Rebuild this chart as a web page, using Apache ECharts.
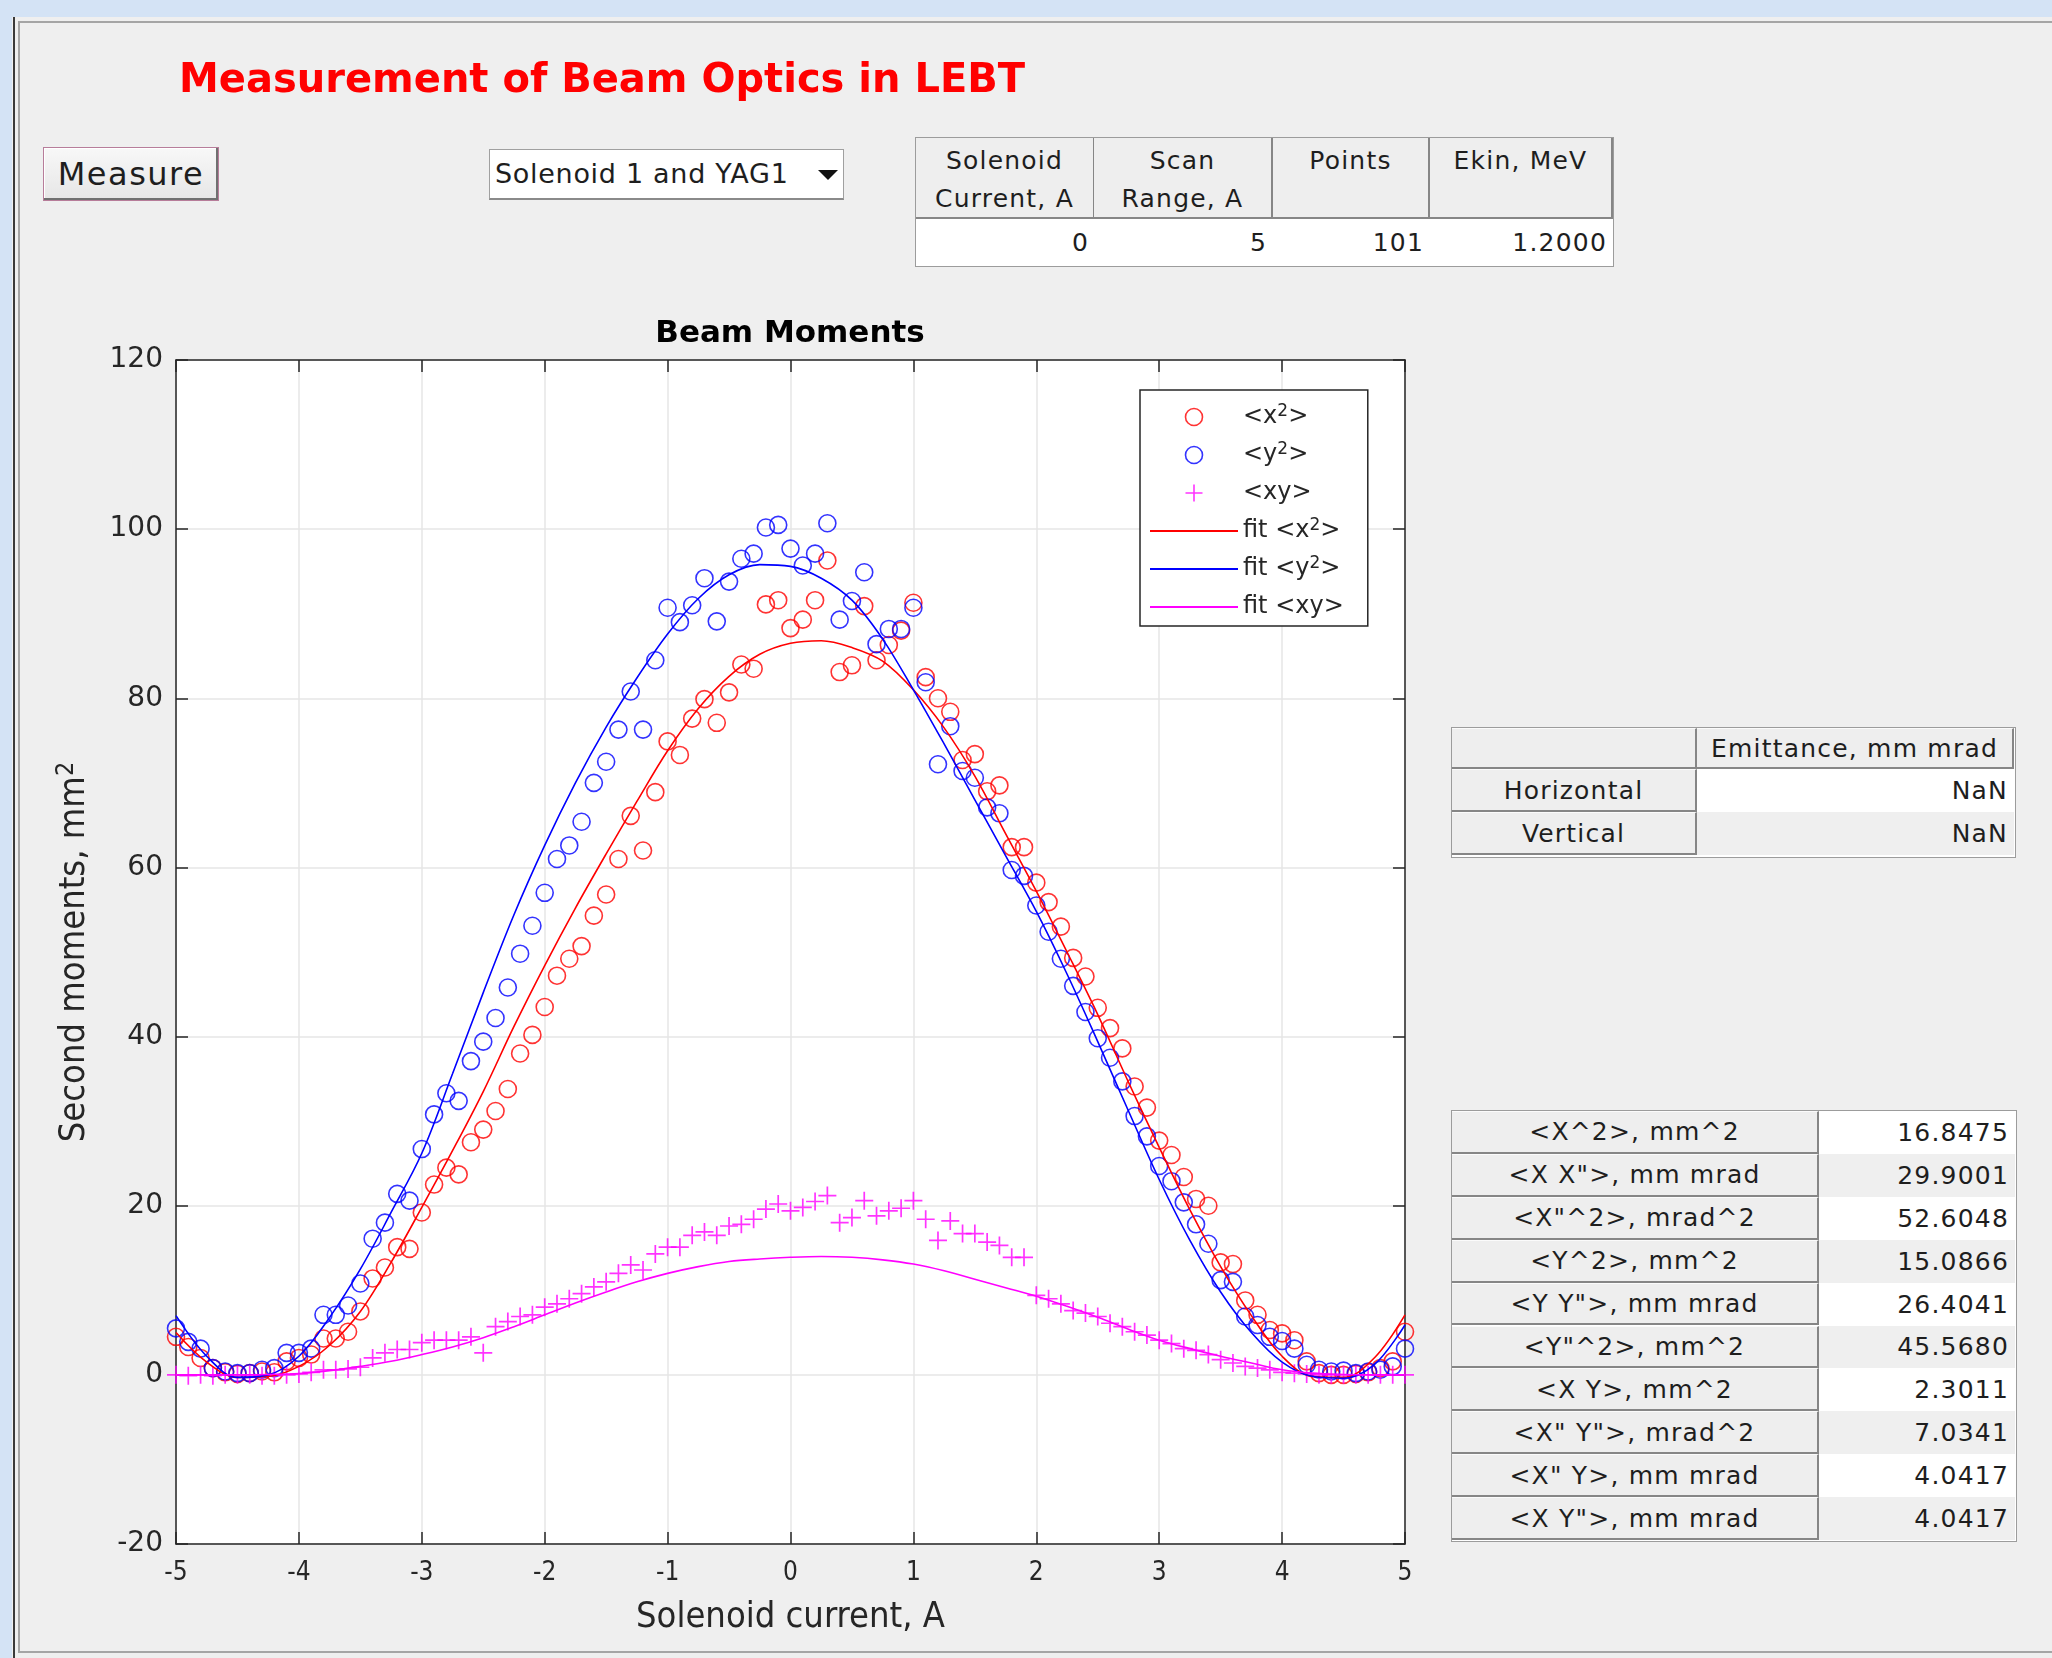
<!DOCTYPE html>
<html>
<head>
<meta charset="utf-8">
<title>Measurement of Beam Optics in LEBT</title>
<script src="https://cdn.jsdelivr.net/npm/echarts@6.0.0/dist/echarts.min.js"></script>
<style>
  html, body { margin: 0; padding: 0; }
  body {
    width: 2052px; height: 1658px; position: relative; overflow: hidden;
    background: #efefef; font-family: "DejaVu Sans", sans-serif; color: #1e1e1e;
  }
  .band { position: absolute; background: #d4e3f5; }
  .rule { position: absolute; }
  #heading {
    position: absolute; left: 179px; top: 58px; margin: 0;
    font-size: 40px; line-height: 40px; font-weight: bold; color: #ff0000; white-space: nowrap;
  }
  #measure {
    position: absolute; left: 43px; top: 147px; width: 176px; height: 54px; box-sizing: border-box;
    border: 1px solid #b77d9a; background: linear-gradient(#f8f8f8, #e6e6e6);
    box-shadow: inset -2px -2px 0 #707070, inset 1px 1px 0 #ffffff;
    font-size: 32px; letter-spacing: 1.5px; display: flex; align-items: center; justify-content: center;
  }
  #source {
    position: absolute; left: 489px; top: 149px; width: 355px; height: 51px; box-sizing: border-box;
    background: #fff; border: 1px solid #a0a0a0; border-bottom: 2px solid #8a8a8a;
    font-size: 27px; letter-spacing: 0.7px; line-height: 48px; padding-left: 5px; white-space: nowrap;
  }
  #source .arrow {
    position: absolute; left: 328px; top: 20px; width: 0; height: 0;
    border-left: 10px solid transparent; border-right: 10px solid transparent; border-top: 10px solid #111;
  }
  .tbl { position: absolute; box-sizing: border-box; border: 1px solid #9c9c9c; background: #fff; }
  .cell {
    position: absolute; box-sizing: border-box; display: flex; align-items: center;
    font-size: 25px; letter-spacing: 1.2px; white-space: pre-line; overflow: hidden;
  }
  .hd {
    background: #eeeeee; justify-content: center; text-align: center;
    border-right: 2px solid #868686; border-bottom: 2px solid #868686; border-top: 1px solid #fbfbfb;
  }
  .cap { align-items: flex-start; line-height: 38px; padding-top: 4px; border-top: none; }
  .num { justify-content: flex-end; padding-right: 6px; }
  #chart { position: absolute; left: 0; top: 0; width: 2052px; height: 1658px; }
</style>
</head>
<body>
<div class="band" style="left:0;top:0;width:2052px;height:17px"></div>
<div class="band" style="left:0;top:0;width:12px;height:1658px"></div>
<div class="rule" style="left:13px;top:17px;width:2px;height:1641px;background:#3a3a3a"></div>
<div class="rule" style="left:18px;top:21px;width:2034px;height:2px;background:#a5a5a5"></div>
<div class="rule" style="left:18px;top:21px;width:2px;height:1632px;background:#a5a5a5"></div>
<div class="rule" style="left:18px;top:1651px;width:2034px;height:2px;background:#a5a5a5"></div>

<div id="chart"></div>

<h1 id="heading">Measurement of Beam Optics in LEBT</h1>
<div id="measure">Measure</div>
<div id="source">Solenoid 1 and YAG1<span class="arrow"></span></div>
<div id="tables"></div>

<script>
  // scan points, solenoid current in A
  var currents = [
    -5.0, -4.9, -4.8, -4.7, -4.6, -4.5, -4.4, -4.3, -4.2, -4.1,
    -4.0, -3.9, -3.8, -3.7, -3.6, -3.5, -3.4, -3.3, -3.2, -3.1,
    -3.0, -2.9, -2.8, -2.7, -2.6, -2.5, -2.4, -2.3, -2.2, -2.1,
    -2.0, -1.9, -1.8, -1.7, -1.6, -1.5, -1.4, -1.3, -1.2, -1.1,
    -1.0, -0.9, -0.8, -0.7, -0.6, -0.5, -0.4, -0.3, -0.2, -0.1,
    0.0, 0.1, 0.2, 0.3, 0.4, 0.5, 0.6, 0.7, 0.8, 0.9,
    1.0, 1.1, 1.2, 1.3, 1.4, 1.5, 1.6, 1.7, 1.8, 1.9,
    2.0, 2.1, 2.2, 2.3, 2.4, 2.5, 2.6, 2.7, 2.8, 2.9,
    3.0, 3.1, 3.2, 3.3, 3.4, 3.5, 3.6, 3.7, 3.8, 3.9,
    4.0, 4.1, 4.2, 4.3, 4.4, 4.5, 4.6, 4.7, 4.8, 4.9,
    5.0
  ];
  // measured <x^2>, mm^2
  var x2Measured = [
    4.5, 3.3, 2.0, 0.8, 0.3, 0.1, 0.2, 0.4, 0.3, 1.6,
    2.0, 2.4, 4.3, 4.3, 5.1, 7.5, 11.4, 12.7, 15.1, 14.9,
    19.2, 22.5, 24.5, 23.7, 27.5, 29.0, 31.2, 33.8, 38.0, 40.2,
    43.5, 47.2, 49.2, 50.7, 54.3, 56.8, 61.0, 66.1, 62.0, 68.9,
    74.9, 73.3, 77.6, 79.9, 77.1, 80.7, 84.0, 83.5, 91.1, 91.6,
    88.3, 89.3, 91.6, 96.3, 83.1, 83.9, 90.9, 84.5, 86.3, 88.0,
    91.3, 82.5, 80.0, 78.4, 72.7, 73.4, 69.0, 69.7, 62.4, 62.4,
    58.2, 55.9, 53.0, 49.3, 47.1, 43.4, 41.0, 38.6, 34.1, 31.6,
    27.7, 26.0, 23.4, 20.8, 20.0, 13.3, 13.1, 8.8, 7.1, 5.3,
    4.9, 4.1, 1.6, 0.2, 0.0, 0.0, 0.1, 0.3, 0.8, 1.6,
    5.1
  ];
  // measured <y^2>, mm^2
  var y2Measured = [
    5.5, 3.9, 3.1, 0.8, 0.4, 0.2, 0.2, 0.6, 0.8, 2.6,
    2.6, 3.1, 7.1, 7.1, 8.2, 10.8, 16.1, 18.0, 21.4, 20.6,
    26.7, 30.8, 33.3, 32.4, 37.1, 39.4, 42.2, 45.8, 49.8, 53.1,
    57.0, 61.0, 62.6, 65.4, 70.0, 72.5, 76.3, 80.8, 76.3, 84.5,
    90.7, 89.0, 91.0, 94.2, 89.1, 93.8, 96.5, 97.1, 100.2, 100.5,
    97.7, 95.7, 97.1, 100.7, 89.3, 91.5, 94.9, 86.4, 88.2, 88.2,
    90.7, 81.9, 72.2, 76.7, 71.4, 70.6, 67.1, 66.4, 59.7, 59.0,
    55.5, 52.4, 49.2, 46.0, 42.9, 39.8, 37.5, 34.7, 30.6, 28.2,
    24.7, 22.9, 20.4, 17.8, 15.5, 11.2, 11.0, 6.9, 5.9, 4.5,
    4.0, 3.1, 1.2, 0.6, 0.4, 0.5, 0.2, 0.4, 0.6, 1.0,
    3.1
  ];
  // measured <xy>, mm^2
  var xyMeasured = [
    0.0, -0.1, 0.0, -0.1, 0.0, 0.0, 0.0, -0.1, -0.1, 0.0,
    0.1, 0.3, 0.6, 0.6, 0.7, 0.9, 2.0, 2.6, 3.0, 3.0,
    3.8, 4.1, 4.1, 4.1, 4.5, 2.6, 5.7, 6.3, 6.9, 7.1,
    8.0, 8.4, 9.0, 9.6, 10.4, 11.0, 12.0, 13.0, 12.4, 14.3,
    15.1, 15.1, 16.5, 16.9, 16.5, 17.6, 17.8, 18.4, 19.6, 20.2,
    19.4, 19.8, 20.5, 21.2, 18.0, 18.6, 20.6, 18.8, 19.4, 19.7,
    20.6, 18.4, 15.9, 18.2, 16.7, 16.7, 15.7, 15.3, 13.9, 13.9,
    9.4, 9.0, 8.4, 7.6, 7.3, 6.9, 6.1, 5.7, 5.1, 4.7,
    4.1, 3.7, 3.1, 2.9, 2.4, 1.8, 1.4, 1.0, 0.8, 0.6,
    0.3, 0.2, 0.1, 0.0, 0.0, 0.0, 0.0, 0.0, 0.0, 0.0,
    0.0
  ];

  // fitted curves
  var fitCurrents = [
    -5.0, -4.75, -4.5, -4.25, -4.0, -3.75, -3.5, -3.25, -3.0, -2.75,
    -2.5, -2.25, -2.0, -1.75, -1.5, -1.25, -1.0, -0.75, -0.5, -0.25,
    0.0, 0.25, 0.5, 0.75, 1.0, 1.25, 1.5, 1.75, 2.0, 2.25,
    2.5, 2.75, 3.0, 3.25, 3.5, 3.75, 4.0, 4.25, 4.5, 4.75,
    5.0
  ];
  var x2Fit = [
    5.0, 1.5, -0.3, -0.2, 1.0, 3.5, 7.5, 13.3, 19.8, 26.5,
    33.5, 41.2, 48.4, 55.2, 61.6, 67.8, 73.8, 78.8, 82.6, 85.2,
    86.5, 86.8, 86.0, 84.4, 81.0, 76.5, 70.8, 64.0, 57.2, 50.0,
    42.6, 34.6, 26.9, 19.5, 12.8, 7.0, 2.2, -0.2, -0.3, 2.0,
    7.1
  ];
  var y2Fit = [
    7.0, 2.2, -0.3, 0.0, 2.2, 6.8, 12.5, 19.2, 26.2, 35.6,
    45.2, 54.4, 62.6, 70.0, 76.6, 82.4, 87.6, 91.8, 94.6, 95.8,
    95.6, 94.2, 91.6, 87.0, 81.0, 74.6, 68.0, 61.4, 54.8, 47.4,
    39.4, 31.2, 23.1, 15.9, 9.8, 5.0, 1.5, -0.2, -0.4, 1.2,
    5.9
  ];
  var xyFit = [
    0.0, 0.0, 0.0, 0.05, 0.15, 0.5, 1.0, 1.6, 2.4, 3.3,
    4.4, 5.7, 7.1, 8.5, 9.8, 11.0, 12.0, 12.8, 13.4, 13.7,
    13.9, 14.0, 13.9, 13.6, 13.1, 12.3, 11.3, 10.3, 9.3, 8.1,
    6.8, 5.4, 4.1, 3.1, 2.2, 1.4, 0.6, 0.2, 0.05, 0.0,
    0.0
  ];

  // GUI tables
  var scanHeaders = ['Solenoid\nCurrent, A', 'Scan\nRange, A', 'Points', 'Ekin, MeV'];
  var scanValues = ['0', '5', '101', '1.2000'];
  var emittanceHeader = 'Emittance, mm mrad';
  var emittanceRows = ['Horizontal', 'Vertical'];
  var emittanceValues = ['NaN', 'NaN'];
  var momentLabels = [
    '<X^2>, mm^2', '<X X">, mm mrad', '<X"^2>, mrad^2', '<Y^2>, mm^2', '<Y Y">, mm mrad',
    '<Y"^2>, mm^2', '<X Y>, mm^2', '<X" Y">, mrad^2', '<X" Y>, mm mrad', '<X Y">, mm mrad'
  ];
  var momentValues = ['16.8475', '29.9001', '52.6048', '15.0866', '26.4041',
    '45.5680', '2.3011', '7.0341', '4.0417', '4.0417'];

  var holder = document.getElementById('tables')
  function box (x, y, w, h) {
    var d = document.createElement('div')
    d.className = 'tbl'
    d.style.cssText = 'left:' + x + 'px;top:' + y + 'px;width:' + w + 'px;height:' + h + 'px'
    holder.appendChild(d)
  }
  function cell (x, y, w, h, text, cls, bg) {
    var d = document.createElement('div')
    d.className = 'cell ' + cls
    d.style.cssText = 'left:' + x + 'px;top:' + y + 'px;width:' + w + 'px;height:' + h + 'px' + (bg ? ';background:' + bg : '')
    d.textContent = text
    holder.appendChild(d)
  }

  // scan settings table
  var scanCols = [915, 1094, 1273, 1430, 1613]
  box(915, 137, 699, 130)
  for (var i = 0; i < 4; i++) {
    var colW = scanCols[i + 1] - scanCols[i]
    cell(scanCols[i] + (i === 0 ? 1 : 0), 138, colW, 81, scanHeaders[i], 'hd cap')
    cell(scanCols[i] + (i === 0 ? 1 : 0), 219, colW, 46, scanValues[i], 'num', '#ffffff')
  }

  // emittance table
  box(1451, 727, 565, 131)
  cell(1452, 728, 245, 41, '', 'hd')
  cell(1697, 728, 317, 41, emittanceHeader, 'hd')
  for (var r = 0; r < emittanceRows.length; r++) {
    cell(1452, 769 + r * 43, 245, 43, emittanceRows[r], 'hd')
    cell(1697, 769 + r * 43, 317, 43, emittanceValues[r], 'num', r % 2 ? '#efefef' : '#ffffff')
  }

  // second moments table
  box(1451, 1110, 566, 432)
  for (var k = 0; k < momentLabels.length; k++) {
    var rowTop = 1111 + k * 42.9
    cell(1452, rowTop, 367, 42.9, momentLabels[k], 'hd')
    cell(1819, rowTop, 196, 42.9, momentValues[k], 'num', k % 2 ? '#efefef' : '#ffffff')
  }

  function pairs (xs, ys) {
    return xs.map(function (x, i) { return [x, ys[i]] })
  }

  var axisColor = '#262626'
  var gridColor = '#e6e6e6'
  var plusPath = 'path://M0,8L16,8M8,0L8,16'
  var condensed = '"DejaVu Sans Condensed", "Liberation Sans", sans-serif'
  var noDot = { color: 'transparent', borderWidth: 0, opacity: 0 }

  function axisBase (extra) {
    var base = {
      type: 'value',
      axisLine: { show: true, onZero: false, lineStyle: { color: axisColor, width: 1.5 } },
      axisTick: { show: true, inside: true, length: 12, lineStyle: { color: axisColor, width: 1.5 } },
      splitLine: { show: false },
      axisLabel: { show: false }
    }
    for (var key in extra) base[key] = extra[key]
    return base
  }

  var myChart = echarts.init(document.getElementById('chart'), null, { renderer: 'canvas' })
  var option = {
    animation: false,
    grid: {
      left: 176, top: 360, width: 1229, height: 1184,
      show: true, backgroundColor: '#ffffff', borderWidth: 0, outerBoundsMode: 'none'
    },
    graphic: [{
      type: 'text', x: 790, y: 334, silent: true,
      style: {
        text: 'Beam Moments', font: 'bold 31px "DejaVu Sans"', fill: '#000000',
        align: 'center', verticalAlign: 'middle', textAlign: 'center', textVerticalAlign: 'middle'
      }
    }],
    legend: {
      orient: 'vertical', left: 1140, top: 390,
      padding: [13, 24, 5, 9], itemWidth: 88, itemHeight: 17, itemGap: 10,
      backgroundColor: '#ffffff', borderColor: axisColor, borderWidth: 1.5, borderRadius: 0,
      selectedMode: false,
      formatter: function (name) { return name.replace('²', '{s|2}') },
      textStyle: {
        color: axisColor, fontFamily: 'DejaVu Sans', fontSize: 24, lineHeight: 28,
        rich: { s: { color: axisColor, fontFamily: 'DejaVu Sans', fontSize: 17, lineHeight: 17, verticalAlign: 'top' } }
      },
      data: [
        { name: '<x²>', icon: 'circle', itemStyle: { color: 'transparent', borderColor: '#ff0000', borderWidth: 1.6 } },
        { name: '<y²>', icon: 'circle', itemStyle: { color: 'transparent', borderColor: '#0000ff', borderWidth: 1.6 } },
        { name: '<xy>', icon: plusPath, itemStyle: { color: 'transparent', borderColor: '#ff00ff', borderWidth: 1.6 } },
        { name: 'fit <x²>', itemStyle: noDot },
        { name: 'fit <y²>', itemStyle: noDot },
        { name: 'fit <xy>', itemStyle: noDot }
      ]
    },
    xAxis: [
      axisBase({
        min: -5, max: 5, interval: 1, position: 'bottom',
        axisLabel: { show: true, margin: 16, color: axisColor, fontFamily: condensed, fontSize: 26 },
        splitLine: { show: true, lineStyle: { color: gridColor, width: 1.5 } },
        name: 'Solenoid current, A', nameLocation: 'middle', nameGap: 56,
        nameTextStyle: { color: axisColor, fontFamily: condensed, fontSize: 36 }
      }),
      axisBase({ min: -5, max: 5, interval: 1, position: 'top' })
    ],
    yAxis: [
      axisBase({
        min: -20, max: 120, interval: 20, position: 'left',
        axisLabel: { show: true, margin: 13, color: axisColor, fontFamily: 'DejaVu Sans', fontSize: 28 },
        splitLine: { show: true, lineStyle: { color: gridColor, width: 1.5 } },
        name: 'Second moments, mm{s|2}', nameLocation: 'middle', nameGap: 80,
        nameTextStyle: {
          color: axisColor, fontFamily: condensed, fontSize: 36, lineHeight: 42,
          rich: { s: { color: axisColor, fontFamily: condensed, fontSize: 25, lineHeight: 25, verticalAlign: 'top' } }
        }
      }),
      axisBase({ min: -20, max: 120, interval: 20, position: 'right' })
    ],
    series: [{
      name: '<x²>', type: 'scatter', data: pairs(currents, x2Measured),
      symbol: 'circle', symbolSize: 17,
      itemStyle: { color: 'transparent', borderColor: '#ff0000', borderWidth: 1.6 }
    }, {
      name: '<y²>', type: 'scatter', data: pairs(currents, y2Measured),
      symbol: 'circle', symbolSize: 17,
      itemStyle: { color: 'transparent', borderColor: '#0000ff', borderWidth: 1.6 }
    }, {
      name: '<xy>', type: 'scatter', data: pairs(currents, xyMeasured),
      symbol: plusPath, symbolSize: 18,
      itemStyle: { color: 'transparent', borderColor: '#ff00ff', borderWidth: 1.7 }
    }, {
      name: 'fit <x²>', type: 'line', data: pairs(fitCurrents, x2Fit),
      symbol: 'none', smooth: 0.35,
      lineStyle: { color: '#ff0000', width: 1.6 }, itemStyle: { color: '#ff0000' }
    }, {
      name: 'fit <y²>', type: 'line', data: pairs(fitCurrents, y2Fit),
      symbol: 'none', smooth: 0.35,
      lineStyle: { color: '#0000ff', width: 1.6 }, itemStyle: { color: '#0000ff' }
    }, {
      name: 'fit <xy>', type: 'line', data: pairs(fitCurrents, xyFit),
      symbol: 'none', smooth: 0.35,
      lineStyle: { color: '#ff00ff', width: 1.6 }, itemStyle: { color: '#ff00ff' }
    }]
  }
  myChart.setOption(option)
</script>
</body>
</html>
